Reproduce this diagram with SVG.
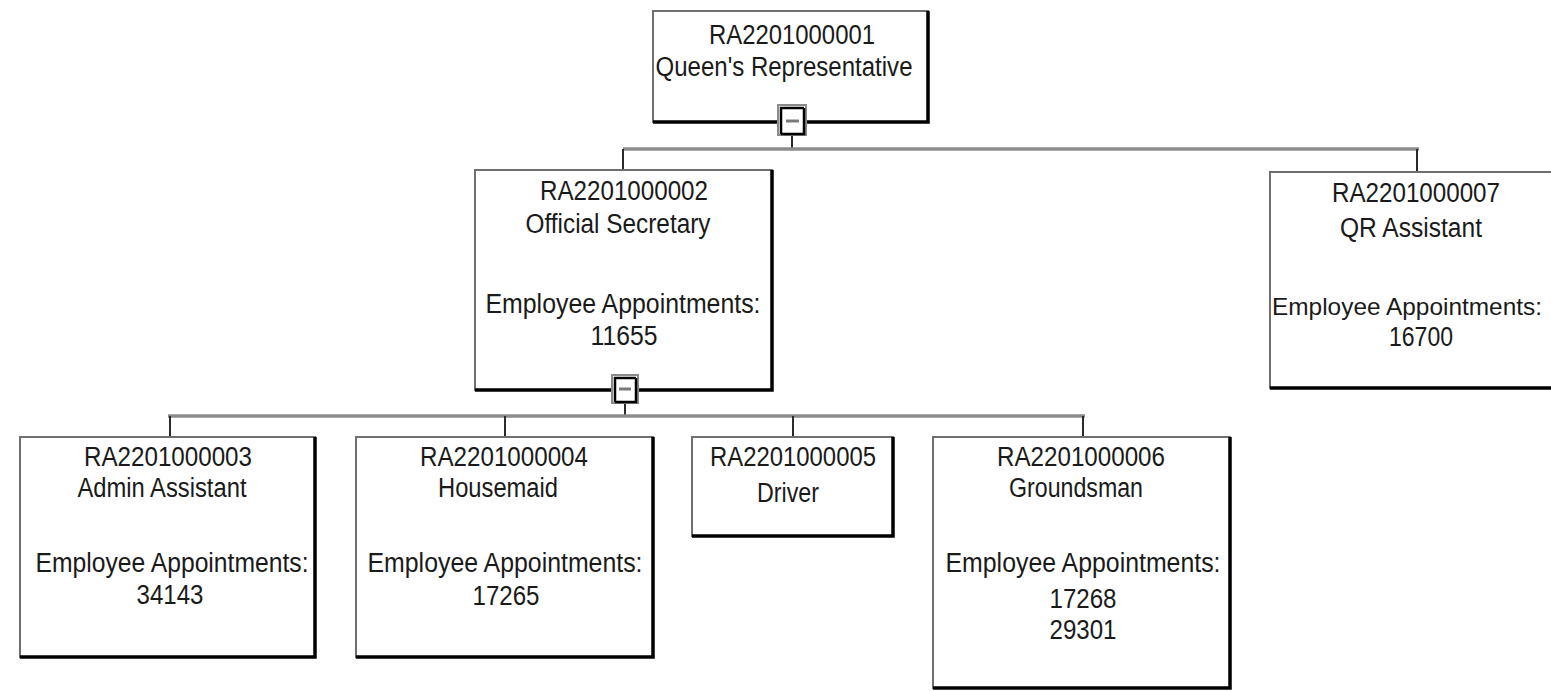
<svg xmlns="http://www.w3.org/2000/svg" width="1551" height="691" viewBox="0 0 1551 691">
  <style>
    .box { fill: #ffffff; stroke: #6f6f6f; stroke-width: 2; }
    .shade { fill: none; stroke: #000000; stroke-width: 3.5; stroke-linejoin: miter; }
    .bus { fill: none; stroke: #8c8c8c; stroke-width: 3.5; }
    .stub { fill: none; stroke: #2a2a2a; stroke-width: 2; }
    .lbl { font-family: "Liberation Sans", Arial, sans-serif; font-size: 27px; fill: #1a1a1a; text-anchor: middle; }
    .tog { fill: #ffffff; stroke: #8a8a8a; stroke-width: 2; }
    .togin { fill: none; stroke: #000000; stroke-width: 2.5; }
    .minus { stroke: #7a7a7a; stroke-width: 3; }
  </style>

  <!-- connectors -->
  <g id="connectors">
    <line class="stub" x1="792" y1="136" x2="792" y2="149"/>
    <line class="bus" x1="623" y1="149" x2="1419" y2="149"/>
    <line class="stub" x1="623" y1="149" x2="623" y2="170"/>
    <line class="stub" x1="1417" y1="149" x2="1417" y2="172"/>

    <line class="stub" x1="625" y1="403" x2="625" y2="416"/>
    <line class="bus" x1="168" y1="416" x2="1085" y2="416"/>
    <line class="stub" x1="170" y1="416" x2="170" y2="437"/>
    <line class="stub" x1="505" y1="416" x2="505" y2="437"/>
    <line class="stub" x1="793" y1="416" x2="793" y2="437"/>
    <line class="stub" x1="1083" y1="416" x2="1083" y2="437"/>
  </g>

  <!-- root position -->
  <g id="node-ra2201000001">
    <rect class="box" x="653" y="11" width="275" height="111"/>
    <path class="shade" d="M653,122 H928 V11"/>
    <text class="lbl" x="792" y="44" textLength="166" lengthAdjust="spacingAndGlyphs">RA2201000001</text>
    <text class="lbl" x="784" y="76" textLength="257" lengthAdjust="spacingAndGlyphs">Queen's Representative</text>
    <g id="toggle-ra2201000001">
      <rect class="tog" x="778" y="105" width="28" height="30"/>
      <path class="togin" d="M781,134 V108 H804 M781,134 H804 V108"/>
      <line class="minus" x1="786" y1="121" x2="799" y2="121"/>
    </g>
  </g>

  <g id="node-ra2201000002">
    <rect class="box" x="475" y="170" width="297" height="220"/>
    <path class="shade" d="M475,390 H772 V170"/>
    <text class="lbl" x="624" y="200" textLength="168" lengthAdjust="spacingAndGlyphs">RA2201000002</text>
    <text class="lbl" x="618" y="233" textLength="185" lengthAdjust="spacingAndGlyphs">Official Secretary</text>
    <text class="lbl" x="623" y="313" textLength="275" lengthAdjust="spacingAndGlyphs">Employee Appointments:</text>
    <text class="lbl" x="624" y="345" textLength="67" lengthAdjust="spacingAndGlyphs">11655</text>
    <g id="toggle-ra2201000002">
      <rect class="tog" x="612" y="375" width="26" height="28"/>
      <path class="togin" d="M615,402 V378 H636 M615,402 H636 V378"/>
      <line class="minus" x1="619" y1="389" x2="631" y2="389"/>
    </g>
  </g>

  <g id="node-ra2201000007">
    <rect class="box" x="1270" y="172" width="297" height="216"/>
    <path class="shade" d="M1270,388 H1567 V172"/>
    <text class="lbl" x="1416" y="202" textLength="168" lengthAdjust="spacingAndGlyphs">RA2201000007</text>
    <text class="lbl" x="1411" y="237" textLength="142" lengthAdjust="spacingAndGlyphs">QR Assistant</text>
    <text class="lbl" x="1407" y="315" style="font-size:24.5px" textLength="270" lengthAdjust="spacingAndGlyphs">Employee Appointments:</text>
    <text class="lbl" x="1421" y="346" textLength="64" lengthAdjust="spacingAndGlyphs">16700</text>
  </g>

  <g id="node-ra2201000003">
    <rect class="box" x="20" y="437" width="295" height="220"/>
    <path class="shade" d="M20,657 H315 V437"/>
    <text class="lbl" x="168" y="466" textLength="168" lengthAdjust="spacingAndGlyphs">RA2201000003</text>
    <text class="lbl" x="162" y="497" textLength="169" lengthAdjust="spacingAndGlyphs">Admin Assistant</text>
    <text class="lbl" x="172" y="572" textLength="273" lengthAdjust="spacingAndGlyphs">Employee Appointments:</text>
    <text class="lbl" x="170" y="604" textLength="67" lengthAdjust="spacingAndGlyphs">34143</text>
  </g>

  <g id="node-ra2201000004">
    <rect class="box" x="356" y="437" width="297" height="220"/>
    <path class="shade" d="M356,657 H653 V437"/>
    <text class="lbl" x="504" y="466" textLength="168" lengthAdjust="spacingAndGlyphs">RA2201000004</text>
    <text class="lbl" x="498" y="497" textLength="120" lengthAdjust="spacingAndGlyphs">Housemaid</text>
    <text class="lbl" x="505" y="572" textLength="275" lengthAdjust="spacingAndGlyphs">Employee Appointments:</text>
    <text class="lbl" x="506" y="605" textLength="67" lengthAdjust="spacingAndGlyphs">17265</text>
  </g>

  <g id="node-ra2201000005">
    <rect class="box" x="692" y="437" width="201" height="99"/>
    <path class="shade" d="M692,536 H893 V437"/>
    <text class="lbl" x="793" y="466" textLength="166" lengthAdjust="spacingAndGlyphs">RA2201000005</text>
    <text class="lbl" x="788" y="502" textLength="62" lengthAdjust="spacingAndGlyphs">Driver</text>
  </g>

  <g id="node-ra2201000006">
    <rect class="box" x="933" y="437" width="297" height="251"/>
    <path class="shade" d="M933,688 H1230 V437"/>
    <text class="lbl" x="1081" y="466" textLength="168" lengthAdjust="spacingAndGlyphs">RA2201000006</text>
    <text class="lbl" x="1076" y="497" textLength="134" lengthAdjust="spacingAndGlyphs">Groundsman</text>
    <text class="lbl" x="1083" y="572" textLength="275" lengthAdjust="spacingAndGlyphs">Employee Appointments:</text>
    <text class="lbl" x="1083" y="608" textLength="67" lengthAdjust="spacingAndGlyphs">17268</text>
    <text class="lbl" x="1083" y="639" textLength="67" lengthAdjust="spacingAndGlyphs">29301</text>
  </g>
</svg>
